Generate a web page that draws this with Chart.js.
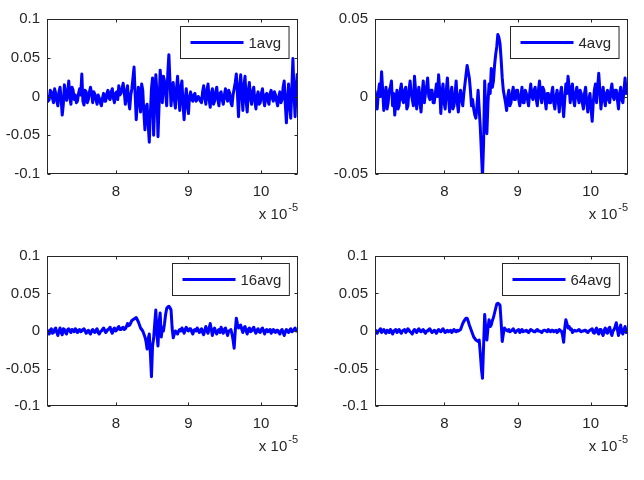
<!DOCTYPE html>
<html>
<head>
<meta charset="utf-8">
<script src="https://cdn.jsdelivr.net/npm/chart.js@4.4.1/dist/chart.umd.min.js"></script>
<style>
  html, body { margin: 0; padding: 0; background: #fff; }
  #wrap { position: relative; width: 644px; height: 480px; }
  canvas { position: absolute; }
</style>
</head>
<body>
<div id="wrap">
  <canvas id="c1" width="322" height="240" style="left:0;top:0"></canvas>
  <canvas id="c4" width="322" height="240" style="left:322px;top:0"></canvas>
  <canvas id="c16" width="322" height="240" style="left:0;top:240px"></canvas>
  <canvas id="c64" width="322" height="240" style="left:322px;top:240px"></canvas>
</div>
<script>
// sample times, in units of 1e-5 s
const T = [7.050,7.065,7.080,7.095,7.110,7.125,7.140,7.155,7.170,7.185,
  7.200,7.215,7.230,7.245,7.260,7.275,7.290,7.305,7.320,7.335,
  7.350,7.365,7.380,7.395,7.410,7.425,7.440,7.455,7.470,7.485,
  7.500,7.515,7.530,7.545,7.560,7.575,7.590,7.605,7.620,7.635,
  7.650,7.665,7.680,7.695,7.710,7.725,7.740,7.755,7.770,7.785,
  7.800,7.815,7.830,7.845,7.860,7.875,7.890,7.905,7.920,7.935,
  7.950,7.965,7.980,7.995,8.010,8.025,8.040,8.055,8.070,8.085,
  8.100,8.115,8.130,8.145,8.160,8.175,8.190,8.205,8.220,8.235,
  8.250,8.265,8.280,8.295,8.310,8.325,8.340,8.355,8.370,8.385,
  8.400,8.415,8.430,8.445,8.460,8.475,8.490,8.505,8.520,8.535,
  8.550,8.565,8.580,8.595,8.610,8.625,8.640,8.655,8.670,8.685,
  8.700,8.715,8.730,8.745,8.760,8.775,8.790,8.805,8.820,8.835,
  8.850,8.865,8.880,8.895,8.910,8.925,8.940,8.955,8.970,8.985,
  9.000,9.015,9.030,9.045,9.060,9.075,9.090,9.105,9.120,9.135,
  9.150,9.165,9.180,9.195,9.210,9.225,9.240,9.255,9.270,9.285,
  9.300,9.315,9.330,9.345,9.360,9.375,9.390,9.405,9.420,9.435,
  9.450,9.465,9.480,9.495,9.510,9.525,9.540,9.555,9.570,9.585,
  9.600,9.615,9.630,9.645,9.660,9.675,9.690,9.705,9.720,9.735,
  9.750,9.765,9.780,9.795,9.810,9.825,9.840,9.855,9.870,9.885,
  9.900,9.915,9.930,9.945,9.960,9.975,9.990,10.005,10.020,10.035,
  10.050,10.065,10.080,10.095,10.110,10.125,10.140,10.155,10.170,10.185,
  10.200,10.215,10.230,10.245,10.260,10.275,10.290,10.305,10.320,10.335,
  10.350,10.365,10.380,10.395,10.410,10.425,10.440,10.455,10.470,10.485,
  10.500];

const avg1 = [0.002,-0.006,-0.004,0.008,0.006,-0.002,-0.008,0.010,0.004,-0.006,
  -0.012,0.006,0.012,-0.004,-0.024,-0.010,0.015,0.004,-0.005,0.006,
  0.020,-0.002,-0.010,0.012,0.008,-0.004,0.002,-0.008,-0.006,0.004,
  0.010,0.002,0.029,-0.006,-0.011,0.008,0.006,-0.008,-0.004,0.006,
  0.012,0.004,-0.008,0.006,0.003,-0.004,-0.010,0.002,-0.002,-0.008,
  -0.012,-0.002,0.004,-0.006,-0.006,0.004,0.008,-0.002,-0.004,0.006,
  0.010,-0.002,-0.008,0.004,0.006,-0.004,0.014,0.002,0.004,0.010,
  0.017,0.006,-0.010,0.004,0.014,-0.006,-0.016,0.002,0.010,0.024,
  0.038,0.004,-0.030,-0.008,0.012,-0.004,-0.020,0.016,0.008,-0.020,
  -0.043,-0.014,-0.010,-0.036,-0.059,-0.022,0.010,0.024,-0.050,-0.010,
  0.028,0.006,-0.052,-0.012,0.034,0.014,-0.008,0.026,0.020,0.004,
  -0.012,0.030,0.054,0.020,-0.012,0.008,0.018,-0.004,-0.015,0.010,
  0.026,0.002,-0.018,0.012,0.020,-0.010,-0.030,-0.004,0.010,-0.012,
  -0.022,0.000,0.006,-0.004,-0.006,0.002,0.004,-0.006,-0.004,0.000,
  -0.002,-0.006,-0.008,0.006,0.014,-0.002,-0.010,0.008,0.016,-0.004,
  -0.014,0.004,0.010,-0.010,-0.006,0.006,0.012,-0.004,-0.012,0.004,
  0.006,-0.004,-0.010,0.002,0.010,-0.002,-0.006,0.008,0.004,-0.008,
  -0.012,0.002,0.010,0.018,0.029,0.004,-0.026,0.012,0.028,0.004,
  -0.018,0.014,0.026,-0.006,-0.020,0.008,0.018,-0.002,-0.010,0.006,
  0.012,-0.006,-0.016,0.000,0.006,-0.010,-0.008,0.004,0.010,-0.004,
  -0.012,0.002,0.004,-0.006,-0.010,0.004,0.008,-0.002,-0.006,0.006,
  0.002,-0.006,-0.012,0.000,0.006,-0.008,-0.004,0.012,0.020,-0.010,
  -0.034,-0.004,0.016,-0.012,-0.028,0.010,0.049,0.004,-0.026,0.012,
  0.030];

const avg4 = [0.004,-0.004,-0.008,0.002,0.008,0.000,0.016,0.004,-0.009,-0.002,
  0.006,-0.008,-0.004,0.004,0.006,0.010,-0.006,0.002,-0.012,-0.004,
  0.004,-0.008,-0.006,0.004,0.008,-0.002,-0.004,0.004,0.006,-0.008,
  -0.006,0.004,0.010,0.002,-0.002,-0.006,0.013,0.004,-0.008,0.000,
  0.006,-0.004,-0.010,0.002,0.010,-0.004,0.002,0.006,0.012,0.000,
  -0.002,0.004,0.004,-0.004,-0.004,0.002,0.008,0.000,0.014,0.004,
  -0.011,0.002,0.008,-0.004,-0.008,0.004,0.012,0.000,-0.010,0.002,
  0.006,-0.008,-0.006,0.002,0.010,-0.004,-0.010,0.000,0.004,-0.002,
  -0.006,0.002,0.008,0.014,0.020,0.016,0.012,0.004,-0.006,-0.002,
  -0.008,-0.012,-0.014,-0.006,0.004,-0.008,-0.020,-0.036,-0.052,-0.030,
  0.010,-0.010,-0.024,-0.004,0.008,0.002,0.018,0.006,0.010,0.020,
  0.027,0.032,0.040,0.038,0.034,0.024,0.012,0.004,0.000,-0.004,
  -0.009,0.000,0.004,-0.006,-0.004,0.002,0.006,-0.002,-0.002,0.004,
  0.004,-0.002,-0.006,0.000,0.006,-0.004,-0.004,0.004,0.002,-0.002,
  -0.006,0.002,0.008,0.000,-0.002,0.004,0.006,-0.002,-0.006,0.004,
  0.010,0.000,-0.004,0.006,0.004,-0.002,-0.008,0.002,0.002,-0.004,
  -0.004,0.002,0.006,-0.004,-0.008,0.000,0.004,-0.002,-0.010,0.002,
  0.006,-0.004,-0.013,-0.002,0.008,0.002,0.013,0.006,-0.004,0.004,
  0.008,-0.002,-0.006,0.002,0.006,0.000,-0.004,0.004,0.002,-0.004,
  -0.008,0.002,0.006,-0.004,-0.010,-0.002,0.002,-0.008,-0.016,-0.004,
  0.004,0.008,-0.004,0.006,0.015,0.004,-0.008,0.000,0.006,-0.002,
  -0.006,0.002,0.004,-0.002,-0.004,0.004,0.008,0.000,-0.002,0.004,
  0.004,-0.002,-0.008,0.002,0.006,-0.002,-0.004,0.004,0.012,0.002,
  0.004];

const avg16 = [0.002,-0.002,-0.004,0.001,0.003,-0.003,-0.002,0.002,0.004,-0.002,
  -0.006,0.000,0.004,-0.002,-0.005,0.003,0.002,-0.002,-0.004,0.002,
  0.003,0.000,-0.002,0.002,0.001,-0.001,0.003,0.001,-0.002,0.001,
  0.002,-0.001,0.000,0.002,0.003,0.000,-0.003,-0.001,0.001,-0.002,
  -0.004,0.000,0.002,-0.001,-0.002,0.001,0.003,-0.002,-0.004,-0.001,
  0.000,0.002,0.004,0.001,-0.002,0.000,0.002,0.003,0.005,0.000,
  -0.003,0.002,0.004,0.000,0.001,0.004,0.006,0.002,0.002,0.004,
  0.005,0.002,0.003,0.006,0.010,0.007,0.008,0.011,0.014,0.015,
  0.016,0.017,0.018,0.015,0.012,0.008,0.004,0.002,0.000,-0.004,
  -0.008,-0.014,-0.024,-0.010,-0.004,-0.030,-0.061,-0.020,-0.010,0.010,
  0.028,-0.004,-0.020,0.012,0.024,-0.008,0.004,0.000,0.010,0.022,
  0.030,0.032,0.033,0.031,0.028,0.004,-0.009,-0.004,0.000,-0.002,
  -0.004,0.000,0.002,0.000,0.004,0.001,-0.003,0.002,0.005,0.001,
  0.000,0.003,0.003,-0.001,-0.004,0.001,0.002,0.000,0.004,0.001,
  -0.002,0.001,0.003,-0.002,-0.005,0.001,0.006,0.000,-0.003,0.004,
  0.010,0.002,-0.006,0.001,0.004,-0.001,-0.004,0.000,0.002,-0.002,
  0.005,0.000,-0.003,0.002,0.004,-0.001,-0.006,0.000,0.000,0.002,
  -0.004,-0.012,-0.023,0.000,0.017,0.010,0.004,0.006,0.008,0.002,
  -0.002,0.004,0.006,0.000,-0.004,0.002,0.004,-0.001,0.000,0.003,
  0.005,0.000,-0.003,0.001,0.003,-0.001,-0.002,0.002,0.004,0.000,
  -0.004,0.001,0.002,-0.001,0.000,0.002,-0.003,0.000,0.002,-0.001,
  -0.002,0.001,0.001,-0.002,-0.004,0.000,0.002,-0.002,-0.006,-0.001,
  0.002,0.000,-0.002,0.001,0.003,-0.001,0.000,0.002,0.004,0.000,
  0.001];

const avg64 = [0.002,-0.001,-0.003,0.000,0.001,0.003,-0.002,0.000,0.002,-0.001,
  -0.003,0.001,0.000,-0.002,0.002,0.000,-0.004,-0.001,0.001,0.002,
  -0.002,0.000,0.002,-0.001,-0.003,0.000,0.001,0.002,-0.002,0.000,
  0.003,0.001,-0.001,-0.002,-0.004,0.000,0.002,0.000,-0.002,0.001,
  0.003,0.000,-0.001,0.001,0.002,-0.001,-0.003,0.000,0.000,0.002,
  0.003,0.000,-0.002,-0.001,0.001,0.000,-0.003,0.000,0.002,0.000,
  -0.001,0.001,0.003,0.000,-0.002,0.000,0.001,-0.001,0.000,0.001,
  -0.002,0.000,0.002,0.000,-0.001,0.001,0.000,0.001,0.002,0.006,
  0.010,0.013,0.015,0.017,0.017,0.013,0.008,0.004,0.000,-0.004,
  -0.008,-0.010,-0.012,-0.013,-0.014,-0.012,-0.030,-0.050,-0.063,-0.020,
  0.022,0.002,-0.012,0.004,0.015,0.006,0.008,0.014,0.018,0.024,
  0.030,0.036,0.037,0.036,0.034,0.012,-0.014,-0.004,0.004,0.002,
  0.001,0.000,0.002,-0.001,0.000,0.001,0.003,0.000,-0.002,0.000,
  0.001,0.002,-0.002,0.000,0.002,-0.001,0.000,0.000,0.001,-0.001,
  -0.002,0.000,0.002,0.001,0.000,-0.001,-0.001,0.001,0.002,0.000,
  0.000,-0.001,-0.002,0.000,0.001,0.001,0.000,-0.001,0.002,0.000,
  -0.001,0.001,0.001,-0.001,0.000,0.001,-0.002,0.000,0.002,0.000,
  0.000,-0.006,-0.015,0.004,0.015,0.010,0.004,0.006,0.002,0.003,
  -0.002,0.000,0.001,0.000,0.000,0.001,0.002,0.000,-0.001,0.000,
  0.000,0.001,0.001,-0.001,-0.002,0.000,0.001,0.002,0.003,-0.002,
  -0.003,0.001,0.004,-0.002,-0.004,0.002,0.002,-0.003,-0.006,0.001,
  0.004,-0.002,-0.003,0.003,0.005,-0.002,-0.006,0.000,0.002,0.006,
  0.011,0.002,-0.006,0.002,0.008,-0.002,-0.004,0.002,0.006,-0.002,
  0.002];

const xTicks = [8, 9, 10];
const yTicksWide = [-0.1, -0.05, 0, 0.05, 0.1];
const yTicksNarrow = [-0.05, 0, 0.05];

const FONT = "'Liberation Sans', Arial, Helvetica, sans-serif";
const INK = '#262626';
const TICK = 3;

// box, inward ticks, legend and the x10^-5 note, drawn MATLAB style
const matlabAxes = {
  id: 'matlabAxes',
  afterDraw(chart, args, opts) {
    const { ctx, chartArea: a, scales } = chart;
    const L = Math.round(a.left) + 0.5, R = Math.round(a.right) - 0.5;
    const Tp = Math.round(a.top) + 0.5, B = Math.round(a.bottom) - 0.5;
    ctx.save();
    ctx.strokeStyle = INK;
    ctx.lineWidth = 1;
    ctx.strokeRect(L, Tp, R - L, B - Tp);
    ctx.beginPath();
    scales.x.ticks.forEach(t => {
      const px = Math.round(scales.x.getPixelForValue(t.value)) + 0.5;
      ctx.moveTo(px, B); ctx.lineTo(px, B - TICK);
      ctx.moveTo(px, Tp); ctx.lineTo(px, Tp + TICK);
    });
    scales.y.ticks.forEach(t => {
      const py = Math.round(scales.y.getPixelForValue(t.value)) + 0.5;
      ctx.moveTo(L, py); ctx.lineTo(L + TICK, py);
      ctx.moveTo(R, py); ctx.lineTo(R - TICK, py);
    });
    ctx.stroke();

    // exponent note
    ctx.fillStyle = INK;
    ctx.textAlign = 'right';
    ctx.textBaseline = 'alphabetic';
    ctx.font = '11px ' + FONT;
    const ew = ctx.measureText('-5').width;
    ctx.fillText('-5', a.right, a.bottom + 37);
    ctx.font = '15px ' + FONT;
    ctx.fillText('x 10', a.right - ew - 1, a.bottom + 44.5);

    // legend
    ctx.font = '15px ' + FONT;
    const tw = ctx.measureText(opts.label).width;
    const w = 10 + 53 + 5 + tw + 8, h = 32;
    const bx = Math.round(a.right - 9 - w) + 0.5, by = Math.round(a.top + 7) + 0.5;
    ctx.fillStyle = '#fff';
    ctx.fillRect(bx, by, w, h);
    ctx.strokeStyle = INK;
    ctx.strokeRect(bx, by, w, h);
    ctx.strokeStyle = '#0000ff';
    ctx.lineWidth = 3;
    ctx.beginPath();
    ctx.moveTo(bx + 10, by + h / 2);
    ctx.lineTo(bx + 63, by + h / 2);
    ctx.stroke();
    ctx.fillStyle = INK;
    ctx.textAlign = 'left';
    ctx.fillText(opts.label, bx + 68, by + h / 2 + 5.5);
    ctx.restore();
  }
};

function makePlot(id, values, label, yMin, yMax, yTicks, yWidth, padRight, padTop, xHeight) {
  new Chart(document.getElementById(id), {
    type: 'line',
    data: {
      datasets: [{
        label: label,
        data: T.map((t, i) => ({ x: t, y: values[i] })),
        borderColor: '#0000ff',
        borderWidth: 3,
        borderJoinStyle: 'round',
        pointRadius: 0,
        tension: 0,
        fill: false
      }]
    },
    options: {
      responsive: false,
      animation: false,
      devicePixelRatio: 1,
      layout: { padding: { left: 0, right: padRight, top: padTop, bottom: 0 } },
      plugins: {
        legend: { display: false },
        tooltip: { enabled: false },
        matlabAxes: { label: label }
      },
      scales: {
        x: {
          type: 'linear',
          min: 7.05,
          max: 10.51,
          grid: { display: false, drawTicks: false },
          border: { display: false },
          afterBuildTicks: s => { s.ticks = xTicks.map(v => ({ value: v })); },
          afterFit: s => { s.height = xHeight; },
          ticks: { color: INK, font: { family: FONT, size: 15 }, padding: 9, maxRotation: 0,
                   callback: v => String(v) }
        },
        y: {
          min: yMin,
          max: yMax,
          grid: { display: false, drawTicks: false },
          border: { display: false },
          afterBuildTicks: s => { s.ticks = yTicks.map(v => ({ value: v })); },
          afterFit: s => { s.width = yWidth; },
          ticks: { color: INK, font: { family: FONT, size: 15 }, padding: 7,
                   callback: v => String(v) }
        }
      }
    },
    plugins: [matlabAxes]
  });
}

makePlot('c1', avg1, '1avg', -0.1, 0.1, yTicksWide, 47, 24, 19, 66);
makePlot('c4', avg4, '4avg', -0.05, 0.05, yTicksNarrow, 53, 16, 19, 66);
makePlot('c16', avg16, '16avg', -0.1, 0.1, yTicksWide, 47, 24, 10, 74);
makePlot('c64', avg64, '64avg', -0.1, 0.1, yTicksWide, 53, 16, 11, 74);
</script>
</body>
</html>
